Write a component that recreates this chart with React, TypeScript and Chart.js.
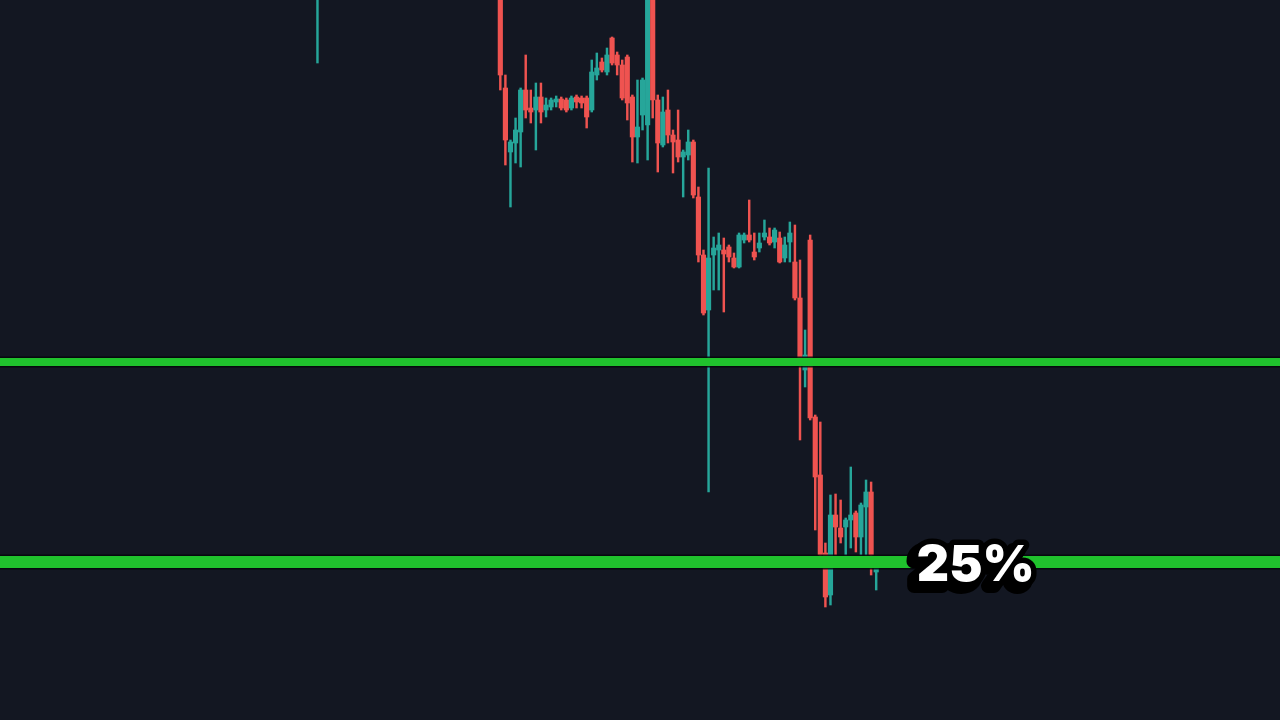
import { useEffect, useRef } from 'react';
import { Chart, registerables } from 'chart.js';

Chart.register(...registerables);

// ---- data ----
const slotCount = 252;
const timeLabels: string[] = Array.from({ length: slotCount }, (_, i) => {
  const t = 9 * 60 + i * 5;
  const h = Math.floor(t / 60) % 24;
  const m = t % 60;
  return `${String(h).padStart(2, '0')}:${String(m).padStart(2, '0')}`;
});

const leadSlot = 62; // isolated candle far to the left
const runStart = 98; // first slot of the visible cluster

const opens = [
  174,
  177, 163.2, 156.8, 157.7, 158.8, 163, 161.2, 161, 162.3, 161,
  161.3, 161.8, 162.1, 162, 161.2, 162.3, 162.2, 162.2, 161, 164.5,
  165.8, 164.8, 168.2, 166.5, 165.5, 166.3, 162.3, 158.3, 160.5, 159.5,
  177, 162, 157.5, 161, 158.5, 158, 156.3, 156.5, 157.8, 152.3,
  146.5, 141, 146.5, 147, 147, 147.3, 146.2, 145.3, 148, 148.5,
  146.8, 147.2, 148.3, 148.3, 147.8, 148.2, 146.2, 147.8, 145.8, 142.2,
  135, 148, 130.3, 124.5, 116.7, 112.5, 120.5, 119.2, 119.3, 120,
  120.7, 118.3, 121.3, 122.8, 114.8,
];
const closes = [
  182,
  164.5, 158, 157.8, 159, 163, 161, 160.8, 162.3, 160.8, 161.5,
  162, 162.1, 161.2, 161, 162.2, 161.8, 161.7, 160.3, 164.8, 165.2,
  165, 166.5, 165.7, 165.5, 162.2, 161.7, 158.3, 159.3, 164, 177,
  162, 157.7, 160.8, 158.5, 157.8, 156.3, 156.8, 157.8, 152.5, 146.5,
  140.7, 146.2, 147.2, 147.5, 146.6, 146.3, 145.3, 148.5, 148.5, 148,
  146.3, 147.7, 148.7, 147.7, 149, 145.8, 147.5, 148.7, 142.2, 136,
  136.5, 130.2, 124.3, 116.5, 112.3, 120.5, 119.3, 118.3, 120, 120.5,
  118.3, 121.5, 122.8, 116.5, 115.2,
];
const highs = [
  183,
  178, 164.5, 158, 160.2, 163.2, 166.5, 163, 163.7, 163.7, 162.2,
  162.2, 162.4, 162.3, 162.2, 162.4, 162.5, 162.4, 162.4, 166, 166.7,
  166.2, 167.2, 168.3, 166.8, 166, 166.5, 162.5, 164, 164.2, 178,
  178, 162.5, 162.3, 163, 159, 161, 157, 159, 158, 153.3,
  147, 155.2, 148.3, 148.7, 148.2, 147.5, 146.7, 148.7, 148.7, 152,
  148.7, 148.7, 150, 149.2, 149.2, 148.8, 148.3, 149.8, 149.5, 146,
  139, 148.5, 130.5, 129.8, 117.7, 122.5, 122.6, 122, 120.2, 125.3,
  120.9, 121.7, 124, 123.8, 115.4,
];
const lows = [
  165.7,
  163, 155.5, 151.3, 155.7, 155.3, 160.2, 159.7, 157, 159.7, 160.3,
  161, 161.3, 161, 160.8, 161, 161.2, 161.2, 159.2, 160.8, 164,
  164.8, 164.5, 165.5, 164.5, 162, 160, 155.8, 155.7, 159, 156,
  160.2, 154.8, 157.3, 157.7, 154.7, 155.8, 152.3, 156, 152.2, 145.8,
  140.5, 122.8, 143, 143, 140.8, 145.8, 145.2, 145.2, 147.7, 147.8,
  146, 146.8, 148, 147.5, 147.2, 145.7, 145.8, 145.8, 142, 128,
  133.3, 130, 119, 116.3, 111.3, 111.5, 116.5, 117.7, 116.5, 117.2,
  116.8, 116.5, 116.5, 114.5, 113,
];

const levelPrices = [135.8, 115.8];
const levelLabel = '25%';
const labelSlot = 180;

// ---- styling ----
const BG = '#131722';
const UP = '#26a69a';
const DOWN = '#ef5350';
const LEVEL = '#20c22d';

export default function App() {
  const canvasRef = useRef<HTMLCanvasElement | null>(null);

  useEffect(() => {
    document.body.style.margin = '0';
    document.body.style.background = BG;
    const canvas = canvasRef.current;
    if (!canvas) return;

    const slots = opens.map((_, j) => (j === 0 ? leadSlot : runStart + j - 1));
    const bodyData: ([number, number] | null)[] = Array(slotCount).fill(null);
    const wickData: ([number, number] | null)[] = Array(slotCount).fill(null);
    const colorAt: string[] = Array(slotCount).fill(UP);
    slots.forEach((s, j) => {
      const o = opens[j];
      const c = closes[j];
      bodyData[s] = [Math.min(o, c), Math.max(o, c)];
      wickData[s] = [lows[j], highs[j]];
      colorAt[s] = c >= o ? UP : DOWN;
    });

    const bgPlugin = {
      id: 'bg',
      beforeDraw(chart: any) {
        const { ctx, width, height } = chart;
        ctx.save();
        ctx.fillStyle = BG;
        ctx.fillRect(0, 0, width, height);
        ctx.restore();
      },
    };

    const levelPlugin = {
      id: 'levels',
      afterDatasetsDraw(chart: any) {
        const { ctx, chartArea, scales } = chart;
        const widths = [8, 12];
        ctx.save();
        levelPrices.forEach((p, i) => {
          const y = scales.y.getPixelForValue(p);
          const w = widths[i];
          ctx.fillStyle = 'rgba(5,7,10,0.85)';
          ctx.fillRect(chartArea.left, y - w / 2 - 1.5, chartArea.right - chartArea.left, w + 3);
          ctx.fillStyle = LEVEL;
          ctx.fillRect(chartArea.left, y - w / 2, chartArea.right - chartArea.left, w);
        });

        // label on lower level
        const y = scales.y.getPixelForValue(levelPrices[1]);
        const x = scales.x.getPixelForValue(labelSlot);
        ctx.font = '900 50px Inter, "Noto Sans", sans-serif';
        ctx.textAlign = 'left';
        ctx.textBaseline = 'alphabetic';
        ctx.lineJoin = 'round';
        const base = y + 19;
        ctx.strokeStyle = '#000';
        ctx.fillStyle = '#000';
        ctx.lineWidth = 14;
        ctx.strokeText(levelLabel, x - 5, base + 5);
        ctx.fillText(levelLabel, x - 5, base + 5);
        ctx.lineWidth = 11;
        ctx.strokeText(levelLabel, x, base);
        ctx.fillStyle = '#ffffff';
        ctx.fillText(levelLabel, x, base);
        ctx.restore();
      },
    };

    const chart = new Chart(canvas, {
      type: 'bar',
      data: {
        labels: timeLabels,
        datasets: [
          {
            label: 'body',
            data: bodyData as any,
            backgroundColor: (c: any) => colorAt[c.dataIndex],
            barThickness: 4.5,
            grouped: false,
            order: 0,
          } as any,
          {
            label: 'wick',
            data: wickData as any,
            backgroundColor: (c: any) => colorAt[c.dataIndex],
            barThickness: 1.8,
            grouped: false,
            order: 1,
          } as any,
        ],
      },
      options: {
        responsive: false,
        animation: false,
        layout: { padding: 0 },
        plugins: {
          legend: { display: false },
          tooltip: { enabled: false },
        },
        scales: {
          x: { type: 'category', display: false, grid: { display: false } },
          y: { min: 100, max: 172, display: false, grid: { display: false } },
        },
      },
      plugins: [bgPlugin, levelPlugin],
    });

    return () => chart.destroy();
  }, []);

  return (
    <div style={{ width: 1280, height: 720, background: BG }}>
      <canvas ref={canvasRef} width={1280} height={720} style={{ display: 'block' }} />
    </div>
  );
}
